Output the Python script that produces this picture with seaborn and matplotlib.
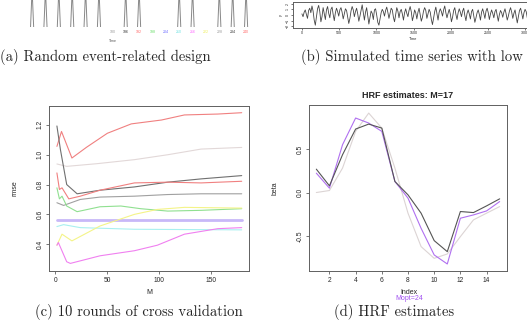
import numpy as np
import pandas as pd
import matplotlib
matplotlib.use("Agg")
import matplotlib.pyplot as plt
import seaborn as sns

# (a) random event-related design
onsets = [144, 150, 156, 162, 168, 174, 186, 192, 210, 216, 228, 234, 240]
design_ticks = [180, 186, 192, 198, 204, 210, 216, 222, 228, 234, 240]
design_tick_colors = ["#999999", "#333333", "#ff6666", "#66dd66", "#6666ff", "#66e0e0",
                      "#ff66ff", "#eeee55", "#999999", "#333333", "#ff6666"]
baseline_end = 179
spike_halfwidth = 0.7

# (b) simulated time series
ts_step = 15
ts_vals = [
    0.2, -0.3, 0.5, 0.9, 0.1, -0.6, 0.8, 1.2, 0.4, 1.6, 0.7, -0.9, -1.8, -0.4, 1.1,
    1.7, 0.6, -1.2, -0.3, 1.3, 0.2, -0.8, 0.9, 1.5, 0.3, -0.5, 1.0, 1.4, 0.1, -1.0,
    0.4, 1.2, 0.6, -0.2, 0.9, 1.3, 0.5, -0.7, 0.2, 1.1, 0.8, -0.4, -1.5, -0.6, 0.7,
    1.5, 0.9, -0.3, 0.6, 1.2, 0.2, -1.1, -0.2, 0.8, 1.8, 0.4, -0.9, 0.5, 1.3, -0.1,
    -1.6, -0.5, 0.7, 0.3, -0.8, 0.9, 1.1, 0.0, -1.3, -1.8, -0.7, 0.4, 1.0, 0.6, -0.2,
    0.8, 1.4, 0.5, -0.6, 0.3, 1.2, 0.9, -0.4, -1.2, 0.1, 1.3, 0.7, -0.5, 0.6, 1.0,
    0.2, -0.9, 0.4, 1.1, 0.3, -0.3, 0.8, 1.5, 0.6, -1.0, -0.2, 0.9, 0.4, -0.7, 0.5,
    1.2, 0.1, -1.1, -0.4, 0.7, 1.3, 0.8, -0.6, 0.2, 1.0, 0.5, -0.8, -1.7, -0.5, 0.6,
    1.4, 0.3, -0.9, 0.5, 1.1, 0.6, -0.2, 0.9, 1.6, 0.4, -0.5, 0.3, 1.0, 0.2, -1.2,
    -0.4, 0.8, 1.3, 0.1, -0.8, 0.4, 1.1, 0.5, -0.3, 0.7, 1.2, -0.1, -1.0, 0.3, 0.9,
    0.2, -0.7, 0.6, 1.0, -0.2, -1.3, -0.5, 0.4, 0.9, 0.1, -0.9, 0.5, 1.1, 0.3, -0.6,
    0.7, 1.2, 0.4, -0.8, 0.2, 0.9, 0.3, -0.5, 0.6, 1.0, -0.1, -1.1, 0.1, 0.8, 0.4,
    -0.4, 0.5, 1.1, 0.2, -0.9, -0.2, 0.7, 1.3, 0.5, -0.6, 0.3, 0.9, -0.2, -1.4, -0.3,
    0.8, 1.2, 0.3, -0.7, 0.4, 1.0, 0.6, -0.5, -1.2, 0.2, 1.1, 0.5, -0.3, 0.6, 0.9,
]

# (c) cross validation rmse curves, one per round
cv_curves = [
    # (M knots, rmse, colour, linewidth)
    ([1.6, 6, 16, 30, 50, 73, 102, 124, 156, 179],
     [1.056, 1.156, 0.978, 1.05, 1.144, 1.207, 1.233, 1.267, 1.273, 1.282], "#f08080", 0.8),
    ([1.6, 11, 40, 76, 108, 140, 179],
     [0.938, 0.922, 0.94, 0.967, 1.0, 1.038, 1.049], "#e2d8d8", 0.8),
    ([1.6, 5, 11, 21, 43, 76, 108, 140, 179],
     [1.193, 1.033, 0.8, 0.738, 0.762, 0.784, 0.816, 0.838, 0.86], "#707070", 0.8),
    ([1.6, 4, 6.5, 13, 24, 43, 76, 108, 140, 179],
     [0.878, 0.767, 0.778, 0.704, 0.722, 0.762, 0.811, 0.816, 0.811, 0.822], "#f08080", 0.8),
    ([1.6, 8, 24, 43, 76, 108, 140, 179],
     [0.678, 0.66, 0.7, 0.716, 0.722, 0.733, 0.738, 0.738], "#a0a0a0", 0.8),
    ([1.6, 4, 6.5, 11, 21, 43, 63, 82, 108, 140, 179],
     [0.778, 0.704, 0.722, 0.656, 0.618, 0.651, 0.656, 0.638, 0.622, 0.627, 0.638], "#90e090", 0.8),
    ([1.6, 179],
     [0.562, 0.562], "#c8b8f8", 2.0),
    ([1.6, 8, 24, 76, 179],
     [0.518, 0.531, 0.511, 0.5, 0.496], "#a8f0f0", 0.8),
    ([1.6, 6.5, 16, 43, 76, 98, 124, 156, 179],
     [0.393, 0.467, 0.422, 0.522, 0.6, 0.633, 0.647, 0.644, 0.642], "#f4f488", 0.8),
    ([1.6, 3, 11, 14.5, 43, 76, 98, 124, 156, 179],
     [0.393, 0.411, 0.282, 0.271, 0.322, 0.356, 0.393, 0.467, 0.504, 0.511], "#f080f0", 0.8),
]

# (d) HRF estimates
hrf_index = list(range(1, 16))
hrf_est = [0.269, 0.077, 0.435, 0.731, 0.788, 0.742, 0.127, -0.027, -0.238,
           -0.554, -0.681, -0.219, -0.231, -0.154, -0.073]
hrf_opt = [0.223, 0.05, 0.55, 0.858, 0.8, 0.704, 0.127, -0.065, -0.412,
           -0.719, -0.823, -0.296, -0.258, -0.212, -0.104]
hrf_true = [0.0, 0.023, 0.281, 0.704, 0.915, 0.742, 0.281, -0.238, -0.623,
            -0.758, -0.708, -0.508, -0.315, -0.238, -0.162]

sns.set_style("white")
plt.rcParams['font.family'] = ['Liberation Sans', 'DejaVu Sans']

W, H = 527, 327
fig = plt.figure(figsize=(W / 100, H / 100), dpi=100)


def box(l, t, r, b):
    return [l / W, 1 - b / H, (r - l) / W, (b - t) / H]


def r_axes(ax, fs):
    for s in ax.spines.values():
        s.set_color("#606060")
        s.set_linewidth(0.7)
    ax.tick_params(direction="out", length=2.5, width=0.6, color="#606060",
                   labelsize=fs, pad=1.5, bottom=True, left=True)


# ---- (a)
axa = fig.add_axes(box(0, 0, 255, 27))
rows = []
for i, t in enumerate(onsets):
    rows += [(t - spike_halfwidth, 0.0, i), (t, 1.4, i), (t + spike_halfwidth, 0.0, i)]
spikes = pd.DataFrame(rows, columns=["t", "y", "ev"])
sns.lineplot(data=spikes, x="t", y="y", units="ev", estimator=None, sort=False,
             color="#888888", lw=0.7, ax=axa)
axa.plot([129.6, baseline_end], [0, 0], color="#888888", lw=0.7)
axa.set_xlim(129.6, 244.0)
axa.set_ylim(0, 1)
axa.axis("off")
for t, c in zip(design_ticks, design_tick_colors):
    axa.text(t, -0.1, str(t), color=c, fontsize=2.6, ha="center", va="top")
axa.text(180.4, -0.45, "Time", color="#555555", fontsize=2.6, ha="center", va="top")

# ---- (b)
axb = fig.add_axes(box(293, 2, 534, 28))
ts = pd.DataFrame({"Time": np.arange(len(ts_vals)) * ts_step, "y": ts_vals})
sns.lineplot(data=ts, x="Time", y="y", color="#444444", lw=0.6, ax=axb)
axb.set_xlim(-120, 3120)
axb.set_ylim(-2.3, 2.3)
axb.set_xticks([0, 500, 1000, 1500, 2000, 2500, 3000])
axb.set_yticks([-2, -1, 0, 1, 2])
r_axes(axb, 2.6)
axb.tick_params(length=1.5, pad=1)
plt.setp(axb.get_yticklabels(), rotation=90, va="center")
axb.set_xlabel("Time", fontsize=2.8, labelpad=1)
axb.set_ylabel("y", fontsize=2.8, labelpad=2)

# ---- (c)
axc = fig.add_axes(box(49, 106, 249, 271))
for m, r, col, lw in cv_curves:
    sns.lineplot(x=m, y=r, color=col, lw=lw, ax=axc)
axc.set_xlim(-6, 186)
axc.set_ylim(0.22, 1.327)
axc.set_xticks([0, 50, 100, 150])
axc.set_yticks([0.4, 0.6, 0.8, 1.0, 1.2])
axc.set_yticklabels(["0.4", "0.6", "0.8", "1.0", "1.2"])
r_axes(axc, 4.8)
plt.setp(axc.get_yticklabels(), rotation=90, va="center")
axc.set_xlabel("M", fontsize=5, labelpad=4)
axc.set_ylabel("rmse", fontsize=5, labelpad=13)

# ---- (d)
axd = fig.add_axes(box(309, 105, 507, 271))
sns.lineplot(x=hrf_index, y=hrf_true, color="#dcd4d4", lw=0.8, ax=axd)
sns.lineplot(x=hrf_index, y=hrf_opt, color="#b070f0", lw=0.8, ax=axd)
sns.lineplot(x=hrf_index, y=hrf_est, color="#555555", lw=0.8, ax=axd)
axd.set_xlim(0.44, 15.56)
axd.set_ylim(-0.904, 1.008)
axd.set_xticks([2, 4, 6, 8, 10, 12, 14])
axd.set_yticks([-0.5, 0.0, 0.5])
axd.set_yticklabels(["-0.5", "0.0", "0.5"])
r_axes(axd, 4.8)
plt.setp(axd.get_yticklabels(), rotation=90, va="center")
axd.set_xlabel("")
axd.set_title("HRF estimates: M=17", fontsize=6.5, fontweight="bold", pad=5)
axd.set_ylabel("beta", fontsize=5, labelpad=13)
fig.text(409 / W, 1 - 292 / H, "Index", fontsize=5, ha="center", va="center")
fig.text(409 / W, 1 - 298 / H, "Mopt=24", fontsize=5, color="#a050f0", ha="center", va="center")

# captions
cap = dict(fontfamily="cmr10", fontsize=10.6, va="center", ha="left")
fig.text(0 / W, 1 - 57 / H, "(a) Random event-related design", **cap)
fig.text(301 / W, 1 - 57 / H, "(b) Simulated time series with low", **cap)
fig.text(35 / W, 1 - 312 / H, "(c) 10 rounds of cross validation", **cap)
fig.text(334 / W, 1 - 312 / H, "(d) HRF estimates", **cap)

fig.savefig("out.png", dpi=100)
